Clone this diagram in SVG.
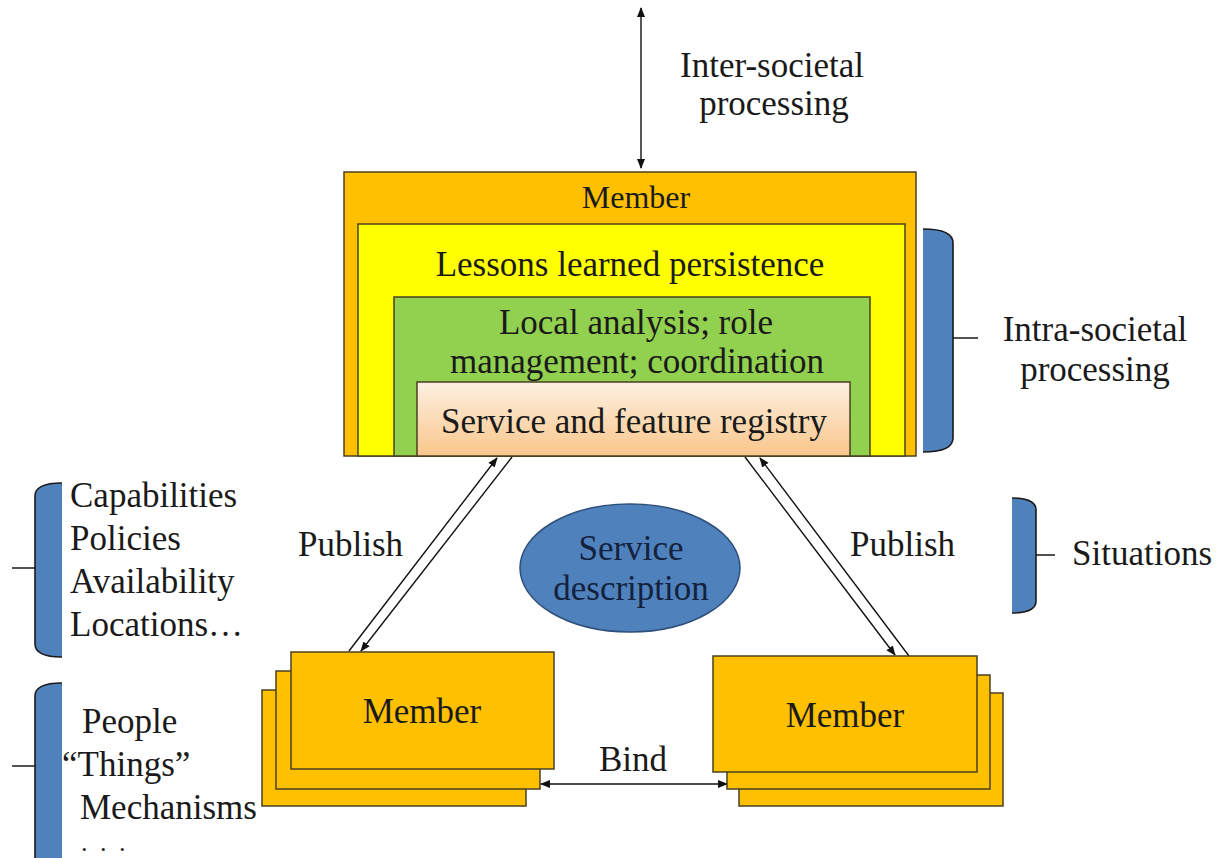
<svg xmlns="http://www.w3.org/2000/svg" width="1221" height="858" viewBox="0 0 1221 858">
<style>
text{font-family:"Liberation Serif","Times New Roman",serif;font-size:35px;fill:#1a1a1a}
.c{text-anchor:middle}
.box{stroke:#4a4020;stroke-width:1.5}
.org{fill:#FFC000}
.brf{fill:#4F81BD;stroke:none}
.brs{fill:none;stroke:#1a1a1a;stroke-width:1.6}
.ln{stroke:#111;stroke-width:1.4;fill:none}
</style>
<defs>
<linearGradient id="reg" x1="0" y1="0" x2="0" y2="1">
<stop offset="0" stop-color="#FDF0E2"/>
<stop offset="1" stop-color="#F9C68A"/>
</linearGradient>
<marker id="ah" viewBox="0 0 10 10" refX="9" refY="5" markerWidth="10" markerHeight="10" markerUnits="userSpaceOnUse" orient="auto-start-reverse">
<path d="M0,1 L10,5 L0,9 Z" fill="#111"/>
</marker>
</defs>

<g id="connectors">
<line class="ln" x1="641" y1="168" x2="641" y2="8" marker-end="url(#ah)" marker-start="url(#ah)"/>
<line class="ln" x1="349" y1="651" x2="497" y2="458" marker-end="url(#ah)"/>
<line class="ln" x1="512" y1="457" x2="361" y2="651" marker-end="url(#ah)"/>
<line class="ln" x1="745" y1="457" x2="895" y2="655" marker-end="url(#ah)"/>
<line class="ln" x1="909" y1="656" x2="760" y2="458" marker-end="url(#ah)"/>
<line class="ln" x1="541" y1="784" x2="727" y2="784" marker-end="url(#ah)" marker-start="url(#ah)"/>
</g>

<g id="member-top">
<rect class="box org" x="344" y="172" width="572" height="284"/>
<text class="c" x="636" y="208" style="font-size:32px">Member</text>
</g>
<g id="lessons">
<rect class="box" fill="#FFFF00" x="358" y="224" width="547" height="232"/>
<text class="c" x="630" y="276">Lessons learned persistence</text>
</g>
<g id="local-analysis">
<rect class="box" fill="#92D050" x="394" y="297" width="476" height="159"/>
<text class="c" x="636" y="334">Local analysis; role</text>
<text class="c" x="637" y="373">management; coordination</text>
</g>
<g id="registry">
<rect class="box" fill="url(#reg)" x="417" y="382" width="433" height="74"/>
<text class="c" x="634" y="433">Service and feature registry</text>
</g>

<g id="inter-label">
<text class="c" x="772" y="77">Inter-societal</text>
<text class="c" x="774" y="115">processing</text>
</g>

<g id="intra-brace">
<path class="brf" d="M923,229 Q953,229 953,243 V438 Q953,452 923,452 Z"/>
<path class="brs" d="M923,229 Q953,229 953,243 V438 Q953,452 923,452 M953,338 H978"/>
<text class="c" x="1095" y="341">Intra-societal</text>
<text class="c" x="1095" y="381">processing</text>
</g>

<g id="situations-brace">
<path class="brf" d="M1012,498 Q1036,498 1036,510 V601 Q1036,613 1012,613 Z"/>
<path class="brs" d="M1012,498 Q1036,498 1036,510 V601 Q1036,613 1012,613 M1036,555 H1055"/>
<text x="1072" y="565">Situations</text>
</g>

<g id="capabilities-brace">
<path class="brf" d="M62,483 Q35,483 35,496 V644 Q35,657 62,657 Z"/>
<path class="brs" d="M62,483 Q35,483 35,496 V644 Q35,657 62,657 M35,568 H12"/>
<text x="70" y="507">Capabilities</text>
<text x="70" y="550">Policies</text>
<text x="70" y="593">Availability</text>
<text x="70" y="636">Locations…</text>
</g>

<g id="people-brace">
<path class="brf" d="M62,683 Q35,683 35,696 V870 H62 Z"/>
<path class="brs" d="M62,683 Q35,683 35,696 V870 M35,766 H12"/>
<text x="82" y="733">People</text>
<text x="62" y="776">“Things”</text>
<text x="80" y="819">Mechanisms</text>
<text x="81" y="851" style="font-size:26px;letter-spacing:3px">. . .</text>
</g>

<g id="publish-labels">
<text x="298" y="556">Publish</text>
<text x="850" y="556">Publish</text>
<text class="c" x="633" y="771">Bind</text>
</g>

<g id="service-description">
<ellipse cx="630" cy="568" rx="110" ry="64" fill="#4F81BD" stroke="#2F4F7A" stroke-width="1.5"/>
<text class="c" x="631" y="560" style="fill:#14213d">Service</text>
<text class="c" x="631" y="600" style="fill:#14213d">description</text>
</g>

<g id="member-left">
<rect class="box org" x="262" y="690" width="264" height="116"/>
<rect class="box org" x="276" y="671" width="264" height="118"/>
<rect class="box org" x="291" y="652" width="263" height="117"/>
<text class="c" x="422" y="723">Member</text>
</g>

<g id="member-right">
<rect class="box org" x="739" y="693" width="264" height="113"/>
<rect class="box org" x="727" y="675" width="263" height="114"/>
<rect class="box org" x="713" y="656" width="264" height="116"/>
<text class="c" x="845" y="727">Member</text>
</g>
</svg>
